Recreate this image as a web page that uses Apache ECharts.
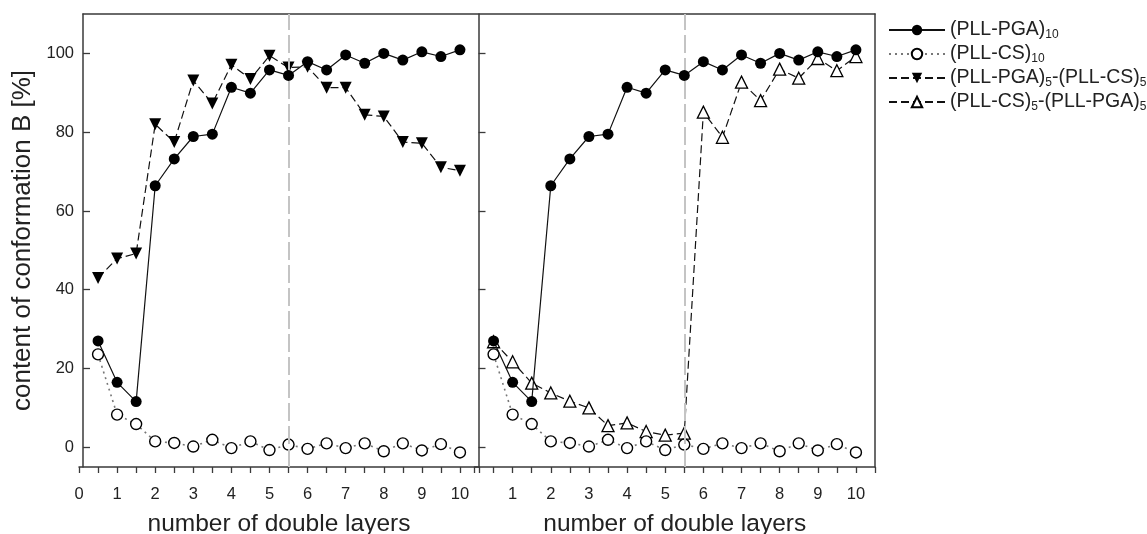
<!DOCTYPE html>
<html>
<head>
<meta charset="utf-8">
<script src="https://cdn.jsdelivr.net/npm/echarts@6/dist/echarts.min.js"></script>
<style>
html,body{margin:0;padding:0;background:#fff;}
#chart{width:1147px;height:534px;}
</style>
</head>
<body>
<div id="chart"></div>
<script>
// ---- data ----
const layers = [0.5,1,1.5,2,2.5,3,3.5,4,4.5,5,5.5,6,6.5,7,7.5,8,8.5,9,9.5,10];
const pga10   = [27,16.5,11.6,66.4,73.2,78.9,79.5,91.4,89.9,95.8,94.4,97.9,95.8,99.6,97.5,100,98.3,100.4,99.2,100.9];
const cs10    = [23.6,8.3,5.9,1.5,1.1,0.2,1.9,-0.2,1.5,-0.7,0.7,-0.4,1.0,-0.2,1.0,-1.0,1.0,-0.8,0.8,-1.3];
const pga5cs5 = [43,47.9,49.2,82,77.5,93.1,87.3,97.1,93.5,99.4,96.4,96.6,91.3,91.3,84.4,84.0,77.5,77.2,71.1,70.2];
const cs5pga5 = [26.8,21.7,16.3,13.8,11.7,10.0,5.5,6.2,4.0,3.1,3.6,85.1,78.7,92.7,88.0,96.0,93.7,98.7,95.6,99.2];
const seriesNames = ['(PLL-PGA)10','(PLL-CS)10','(PLL-PGA)5-(PLL-CS)5','(PLL-CS)5-(PLL-PGA)5'];
const legendRich = {
  '(PLL-PGA)10': '{n|(PLL-PGA)}{s|10}',
  '(PLL-CS)10': '{n|(PLL-CS)}{s|10}',
  '(PLL-PGA)5-(PLL-CS)5': '{n|(PLL-PGA)}{s|5}{n|-(PLL-CS)}{s|5}',
  '(PLL-CS)5-(PLL-PGA)5': '{n|(PLL-CS)}{s|5}{n|-(PLL-PGA)}{s|5}'
};
const switchLayer = 5.5;
const xTickValues = [0,0.5,1,1.5,2,2.5,3,3.5,4,4.5,5,5.5,6,6.5,7,7.5,8,8.5,9,9.5,10,10.5];
const xLabelsLeft = [0,1,2,3,4,5,6,7,8,9,10];
const xLabelsRight = [1,2,3,4,5,6,7,8,9,10];
const yTickValues = [0,20,40,60,80,100];
const xName = 'number of double layers';
const yName = 'content of conformation B [%]';

// ---- styling ----
const FONT = '"Liberation Sans", Arial, Helvetica, sans-serif';
const AX = '#3a3a3a';
const pts = ys => layers.map((x,i)=>[x, ys[i]]);

function xAxisDef(gridIndex, labels, showName){
  return {
    type:'value', gridIndex, min:0, max:10.5,
    axisLine:{show:true, onZero:false, lineStyle:{color:AX, width:1.5}},
    axisTick:{show:true, inside:false, length:6, customValues:xTickValues, lineStyle:{color:AX, width:1.3}},
    axisLabel:{show:true, customValues:labels, margin:19, fontSize:16.5, color:'#222', fontFamily:FONT},
    splitLine:{show:false},
    name: showName ? xName : '', nameLocation:'middle', nameGap:45,
    nameTextStyle:{fontSize:24.5, color:'#222', fontFamily:FONT}
  };
}
function yAxisDef(gridIndex, showLabels, showName){
  return {
    type:'value', gridIndex, min:-5, max:110, offset:-4,
    axisLine:{show:true, onZero:false, lineStyle:{color:AX, width:1.5}},
    axisTick:{show:true, inside:true, length:7, customValues:yTickValues, lineStyle:{color:AX, width:1.3}},
    axisLabel:{show:showLabels, customValues:yTickValues, margin:9, fontSize:16.5, color:'#222', fontFamily:FONT},
    splitLine:{show:false},
    name: showName ? yName : '', nameLocation:'middle', nameGap:47,
    nameTextStyle:{fontSize:26, color:'#222', fontFamily:FONT}
  };
}
const divider = {
  silent:true, symbol:'none', label:{show:false},
  lineStyle:{color:'#c4c4c4', width:2, type:[18,5]},
  data:[{xAxis:switchLayer}]
};
function circleSeries(name, data, xi, filled, withDivider){
  const s = {
    name, type:'line', xAxisIndex:xi, yAxisIndex:xi, data:pts(data),
    symbol:'circle', symbolSize:11, showSymbol:true, z: filled ? 5 : 4,
    itemStyle:{color: filled ? '#000' : '#fff', borderColor:'#000', borderWidth: filled ? 0 : 1.4},
    lineStyle: filled ? {color:'#111', width:1.2, type:'solid'} : {color:'#777', width:1.6, type:[2,4]},
    animation:false
  };
  if (withDivider) s.markLine = divider;
  return s;
}
function triSeries(name, data, xi, down){
  return {
    name, type:'line', xAxisIndex:xi, yAxisIndex:xi, data:pts(data),
    symbol:'triangle', symbolRotate: down ? 180 : 0, symbolSize:12, z:3,
    itemStyle:{color: down ? '#000' : '#fff', borderColor:'#000', borderWidth: down ? 0 : 1.3},
    lineStyle:{color:'#111', width:1.2, type:[8,4]},
    animation:false
  };
}

const chart = echarts.init(document.getElementById('chart'), null, {renderer:'canvas'});
chart.setOption({
  backgroundColor:'#fff',
  animation:false,
  textStyle:{fontFamily:FONT},
  grid:[
    {left:79, top:14, width:400, height:453, outerBoundsMode:'none', containLabel:false},
    {left:474.5, top:14, width:400.5, height:453, outerBoundsMode:'none', containLabel:false},
    {left:83, top:14, width:792, height:453, outerBoundsMode:'none', containLabel:false}
  ],
  xAxis:[
    xAxisDef(0, xLabelsLeft, true),
    xAxisDef(1, xLabelsRight, true),
    {type:'value', gridIndex:2, position:'top', min:0, max:1,
     axisLine:{show:true, onZero:false, lineStyle:{color:AX, width:1.5}}, axisTick:{show:false}, axisLabel:{show:false}, splitLine:{show:false}}
  ],
  yAxis:[
    yAxisDef(0, true, true),
    yAxisDef(1, false, false),
    {type:'value', gridIndex:2, position:'right', min:0, max:1,
     axisLine:{show:true, onZero:false, lineStyle:{color:AX, width:1.5}}, axisTick:{show:false}, axisLabel:{show:false}, splitLine:{show:false}}
  ],
  legend:{
    data:seriesNames, orient:'vertical', left:888, top:20, padding:0,
    itemWidth:56, itemHeight:13, itemGap:3,
    formatter: n => legendRich[n],
    textStyle:{
      color:'#222', fontFamily:FONT,
      rich:{
        n:{fontSize:19.5, lineHeight:22, color:'#222', fontFamily:FONT},
        s:{fontSize:12, color:'#222', fontFamily:FONT, padding:[10,0,0,0]}
      }
    }
  },
  series:[
    triSeries(seriesNames[2], pga5cs5, 0, true),
    circleSeries(seriesNames[1], cs10, 0, false, true),
    circleSeries(seriesNames[0], pga10, 0, true, false),
    triSeries(seriesNames[3], cs5pga5, 1, false),
    circleSeries(seriesNames[1], cs10, 1, false, true),
    circleSeries(seriesNames[0], pga10, 1, true, false)
  ]
});
</script>
</body>
</html>
